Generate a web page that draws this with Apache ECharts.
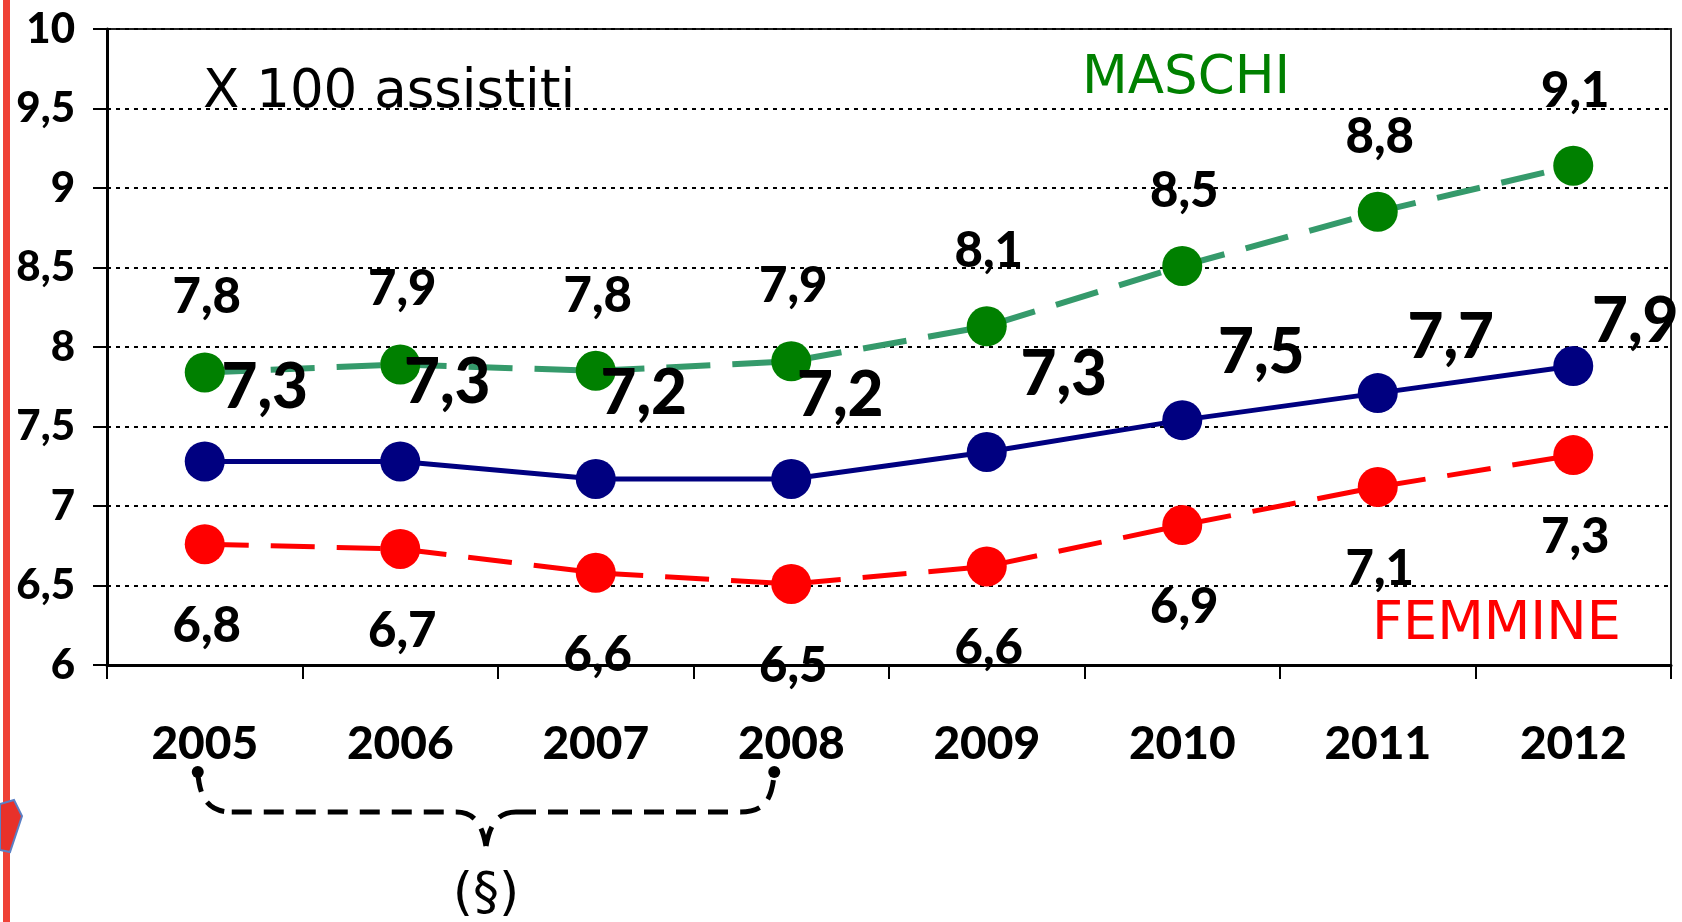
<!DOCTYPE html>
<html><head><meta charset="utf-8">
<script src="https://cdn.jsdelivr.net/npm/echarts@6/dist/echarts.min.js"></script>
<style>html,body{margin:0;padding:0;background:#fff;overflow:hidden}#c{width:1682px;height:922px}</style>
</head><body><div id="c"></div>
<script>
// ---- data ----
const years = ['2005','2006','2007','2008','2009','2010','2011','2012'];
const maschi = [7.84, 7.89, 7.85, 7.91, 8.13, 8.51, 8.85, 9.14];
const maschiLabels = ['7,8','7,9','7,8','7,9','8,1','8,5','8,8','9,1'];
const totale = [7.28, 7.28, 7.17, 7.17, 7.34, 7.54, 7.71, 7.88];
const totaleLabels = ['7,3','7,3','7,2','7,2','7,3','7,5','7,7','7,9'];
const femmine = [6.76, 6.73, 6.58, 6.51, 6.62, 6.88, 7.12, 7.32];
const femmineLabels = ['6,8','6,7','6,6','6,5','6,6','6,9','7,1','7,3'];
const yTickLabels = ['6','6,5','7','7,5','8','8,5','9','9,5','10'];

// ---- layout (label offsets for the blue series) ----
const totaleLabelOffsets = [[60,-73],[47,-78],[48,-85],[49,-83],[77,-77],[79,-67],[73,-55],[62,-44]];

const FONT = 'Lato';
const W = 900;
const chart = echarts.init(document.getElementById('c'), null, {renderer:'canvas'});

function mkData(vals, labels, offsets, defOff){
  return vals.map((v,i)=>({value:v, label:{formatter:labels[i], offset: offsets ? offsets[i] : defOff}}));
}

const option = {
  animation:false,
  backgroundColor:'#fff',
  grid:{left:107, right:11, top:29, bottom:257, show:true, borderColor:'#222', borderWidth:2, containLabel:false, outerBoundsMode:'none'},
  xAxis:{
    type:'category', data:years, boundaryGap:true,
    axisLine:{lineStyle:{color:'#000', width:3}},
    axisTick:{show:true, length:14, lineStyle:{color:'#000', width:2}},
    axisLabel:{margin:56, color:'#000', fontFamily:FONT, fontWeight:W, fontSize:46},
    splitLine:{show:false}
  },
  yAxis:{
    type:'value', min:6, max:10, interval:0.5,
    axisLine:{show:true, lineStyle:{color:'#000', width:3}},
    axisTick:{show:true, length:14, lineStyle:{color:'#000', width:2}},
    axisLabel:{margin:32, color:'#000', fontFamily:FONT, fontWeight:W, fontSize:42,
      formatter:(v)=>yTickLabels[Math.round((v-6)/0.5)]},
    splitLine:{show:true, lineStyle:{color:'#000', width:2, type:[4,5]}}
  },
  series:[
    {name:'MASCHI', type:'line', data:mkData(maschi, maschiLabels, null, [2,-75]),
      symbol:'circle', symbolSize:40, itemStyle:{color:'#008000'},
      lineStyle:{color:'#359a6b', width:6, type:[44,22]},
      label:{show:true, position:'inside', color:'#000', fontFamily:FONT, fontWeight:W, fontSize:49}, z:2},
    {name:'FEMMINE', type:'line', data:mkData(femmine, femmineLabels, null, [2,82]),
      symbol:'circle', symbolSize:40, itemStyle:{color:'#ff0000'},
      lineStyle:{color:'#ff0000', width:5, type:[44,22]},
      label:{show:true, position:'inside', color:'#000', fontFamily:FONT, fontWeight:W, fontSize:49}, z:3},
    {name:'TOTALE', type:'line', data:mkData(totale, totaleLabels, totaleLabelOffsets),
      symbol:'circle', symbolSize:40, itemStyle:{color:'#000080'},
      lineStyle:{color:'#000080', width:5},
      label:{show:true, position:'inside', color:'#000', fontFamily:FONT, fontWeight:W, fontSize:62}, z:4}
  ]
};
chart.setOption(option);

// ---- annotations ----
const gx = (cat)=>chart.convertToPixel({xAxisIndex:0}, cat);
const xL = gx('2005') - 7, xR = gx('2008') - 17, xm = (xL + xR) / 2;
const yDot = 772, yH = 812, ySp = 846;
const braceStyle = {fill:null, stroke:'#000', lineWidth:5, lineDash:[20,12]};
function bez(x1,y1,cx1,cy1,cx2,cy2,x2,y2){
  return {type:'bezierCurve', shape:{x1,y1,x2,y2,cpx1:cx1,cpy1:cy1,cpx2:cx2,cpy2:cy2}, style:braceStyle, silent:true};
}
function seg(x1,y1,x2,y2){
  return {type:'line', shape:{x1,y1,x2,y2}, style:braceStyle, silent:true};
}

chart.setOption({graphic:[
  {type:'rect', shape:{x:3, y:0, width:7, height:922}, style:{fill:'#ef4136'}, silent:true},
  {type:'polygon', shape:{points:[[0,804],[14,800],[22,816],[10,852],[0,850]]}, style:{fill:'#e8312a', stroke:'#5b7fc4', lineWidth:2}, silent:true},
  {type:'text', x:203, y:67, style:{text:'X 100 assistiti', font:'53px "DejaVu Sans"', fill:'#000'}, silent:true},
  {type:'text', x:1082, y:53, style:{text:'MASCHI', font:'53px "DejaVu Sans"', fill:'#008000'}, silent:true},
  {type:'text', x:1372, y:598, style:{text:'FEMMINE', font:'54px "DejaVu Sans"', fill:'#ff0000'}, silent:true},
  bez(xL, yDot, xL+2, yDot+28, xL+12, yH, xL+34, yH),
  seg(xL+34, yH, xm-30, yH),
  bez(xm-30, yH, xm-12, yH, xm-4, yH+12, xm, ySp),
  bez(xm, ySp, xm+4, yH+12, xm+12, yH, xm+30, yH),
  seg(xm+30, yH, xR-34, yH),
  bez(xR-34, yH, xR-10, yH, xR-2, yDot+28, xR, yDot),
  {type:'circle', shape:{cx:xL, cy:yDot, r:6}, style:{fill:'#000'}, silent:true},
  {type:'circle', shape:{cx:xR, cy:yDot, r:6}, style:{fill:'#000'}, silent:true},
  {type:'text', x:xm, y:895, style:{text:'(§)', font:'52px "DejaVu Sans"', fill:'#000', align:'center', verticalAlign:'middle'}, silent:true}
]});
</script>
</body></html>
